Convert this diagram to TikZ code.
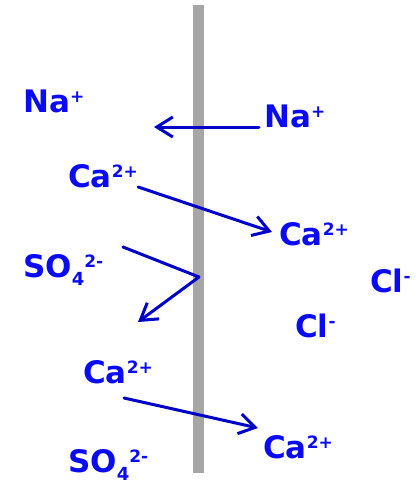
\documentclass[tikz,border=0pt]{standalone}
\usepackage{fontspec}
\setmainfont{DejaVu Sans}
\usetikzlibrary{arrows.meta}
\definecolor{ionblue}{RGB}{10,10,245}
\definecolor{flowblue}{RGB}{0,0,200}
\definecolor{wallgray}{RGB}{166,166,166}
\newcommand{\ionup}[1]{\raisebox{10pt}{\fontsize{17}{17}\selectfont #1}}
\newcommand{\iondown}[1]{\raisebox{-8pt}{\fontsize{18}{18}\selectfont #1}}
\begin{document}
\begin{tikzpicture}[
    x=1pt, y=-1pt,
    ion/.style={anchor=base west, inner sep=0pt, text=ionblue, font=\fontsize{31}{31}\selectfont\bfseries},
    flow/.style={-{Straight Barb[length=16pt,width=20pt]}, line width=3pt, draw=flowblue, line cap=round, line join=round}
]
\useasboundingbox (0,0) rectangle (417,483);
% membrane
\fill[wallgray] (193,5) rectangle (204,473);

% ions, left side
\node[ion] (naA) at (23,112) {Na\ionup{+}};
\node[ion] (caA) at (68,187) {Ca\ionup{2+}};
\node[ion] (soA) at (23,277) {SO\iondown{4}\ionup{2-}};
\node[ion] (caC) at (83,383) {Ca\ionup{2+}};
\node[ion] (soB) at (68,472) {SO\iondown{4}\ionup{2-}};

% ions, right side
\node[ion] (naB) at (264,127) {Na\ionup{+}};
\node[ion] (caB) at (279,245) {Ca\ionup{2+}};
\node[ion] (clA) at (370,292) {Cl\ionup{-}};
\node[ion] (clB) at (295,337) {Cl\ionup{-}};
\node[ion] (caD) at (263,458) {Ca\ionup{2+}};

% arrow ends
\coordinate (naIn) at (154,127);
\coordinate (soStart) at (123,247);
\coordinate (soKink) at (199,277);
\coordinate (soBack) at (138,322);
\coordinate (caStart) at (124,398);

% transport
\draw[flow] ([xshift=-5pt]naB.base west) -- (naIn);
\draw[flow] (caA.base east) -- ([xshift=-7pt,yshift=13pt]caB.base west);
\draw[flow] (soStart) -- (soKink) -- (soBack);
\draw[flow] (caStart) -- ([xshift=-5pt,yshift=30pt]caD.base west);

\end{tikzpicture}
\end{document}
